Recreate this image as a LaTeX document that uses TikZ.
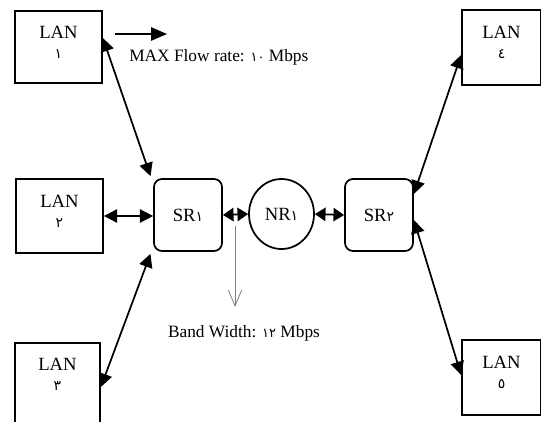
\documentclass[tikz,border=0pt]{standalone}
\usepackage{fontspec}
\setmainfont{Liberation Serif}
\newfontfamily\ar{DejaVu Sans}[Scale=0.75]
\usetikzlibrary{arrows.meta,shapes.geometric}
\begin{document}
\begin{tikzpicture}[x=0.75pt,y=-0.75pt,
 every node/.style={font=\fontsize{13}{14.5}\selectfont},
 nodetext/.style={font=\fontsize{14}{15}\selectfont},
 lanbox/.style={draw,line width=1.3pt,inner sep=0pt},
 srbox/.style={draw,line width=1.3pt,rounded corners=6pt,minimum width=51pt,minimum height=54pt,inner sep=0pt,nodetext},
 nrnode/.style={draw,ellipse,line width=1.3pt,minimum width=48.75pt,minimum height=52.5pt,inner sep=0pt,nodetext},
 link/.style={line width=1.3pt,{Triangle[length=10pt,width=10pt]}-{Triangle[length=10pt,width=10pt]}},
 shortlink/.style={line width=1.3pt,{Triangle[length=8pt,width=10pt]}-{Triangle[length=8pt,width=10pt]}},
 flow/.style={line width=1.3pt,-{Triangle[length=12pt,width=10pt]}},
 bw/.style={draw=gray,line width=0.6pt,-{Straight Barb[length=12pt,width=10pt]}},
 lbl/.style={align=center,inner sep=0pt}]
\useasboundingbox (0,0) rectangle (541,421);
\clip (0,0) rectangle (541,421);
% LAN boxes
\node[lanbox,minimum width=65.25pt,minimum height=54pt] (lan1) at (58.5,47) {};
\node[lanbox,minimum width=65.25pt,minimum height=55.5pt] (lan2) at (59.5,216) {};
\node[lanbox,minimum width=63.75pt,minimum height=72.75pt] (lan3) at (57.5,391.5) {};
\node[lanbox,minimum width=59.25pt,minimum height=56.25pt] (lan4) at (501.5,47.5) {};
\node[lanbox,minimum width=59.25pt,minimum height=56.25pt] (lan5) at (501.5,377.5) {};
\node[lbl,nodetext] (lan1t) at (58.5,42.5) {LAN\\{\ar ١}};
\node[lbl,nodetext] (lan2t) at (59.5,211) {LAN\\{\ar ٢}};
\node[lbl,nodetext] (lan3t) at (57.5,374) {LAN\\{\ar ٣}};
\node[lbl,nodetext] (lan4t) at (501.5,42.5) {LAN\\{\ar ٤}};
\node[lbl,nodetext] (lan5t) at (501.5,372) {LAN\\{\ar ٥}};
% routers
\node[srbox] (sr1) at (188,215) {SR{\ar ١}};
\node[nrnode] (nr1) at (281.5,214) {NR{\ar ١}};
\node[srbox] (sr2) at (379,215) {SR{\ar ٢}};
% links
\draw[link] ([yshift=6.75pt]lan1.east) -- ([xshift=-2pt,yshift=1.5pt]sr1.north west);
\draw[link] (lan2.east) -- (lan2.east -| sr1.west);
\draw[link] ([yshift=3.4pt]lan3.east) -- ([xshift=-2pt,yshift=-1.5pt]sr1.south west);
\draw[shortlink] (sr1.east) -- (nr1.west);
\draw[shortlink] (nr1.east) -- (sr2.west);
\draw[link] ([yshift=15.75pt]sr2.east) -- ([yshift=-5.6pt]lan4.west);
\draw[link] ([yshift=-3.75pt]sr2.east) -- ([yshift=1.9pt]lan5.west);
% flow arrow and label
\coordinate (flowS) at (115,34);
\coordinate (flowE) at (167,34);
\draw[flow] (flowS) -- (flowE);
\node[lbl,anchor=west] (flowlbl) at (129,57) {MAX Flow rate: {\ar ١٠} Mbps};
% bandwidth arrow and label
\coordinate (bwS) at (235,226);
\coordinate (bwE) at (235,307);
\draw[bw] (bwS) -- (bwE);
\node[lbl] (bwlbl) at (244,333) {Band Width: {\ar ١٢} Mbps};
\end{tikzpicture}
\end{document}
